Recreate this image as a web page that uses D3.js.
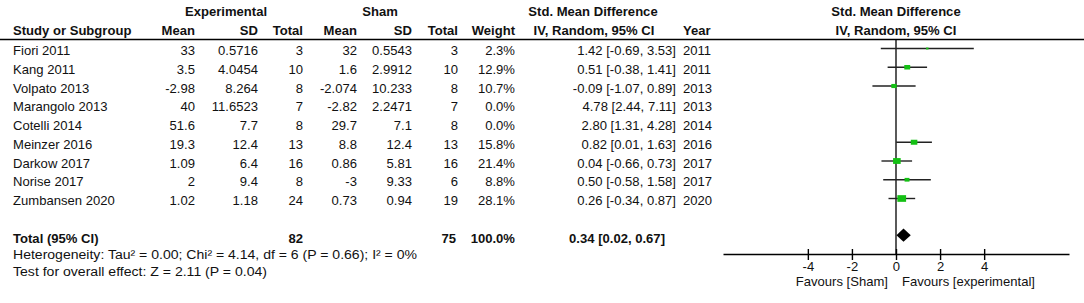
<!DOCTYPE html>
<html><head><meta charset="utf-8">
<script src="https://cdn.jsdelivr.net/npm/d3@7"></script>
<style>
html,body{margin:0;padding:0;background:#fff;}
svg{display:block;font-family:"Liberation Sans",Arial,sans-serif;}
</style></head>
<body>
<svg id="c" width="1084" height="303"></svg>
<script>
const studies = ["Fiori 2011","Kang 2011","Volpato 2013","Marangolo 2013","Cotelli 2014","Meinzer 2016","Darkow 2017","Norise 2017","Zumbansen 2020"];
const expMean = [33, 3.5, -2.98, 40, 51.6, 19.3, 1.09, 2, 1.02];
const expSD = [0.5716, 4.0454, 8.264, 11.6523, 7.7, 12.4, 6.4, 9.4, 1.18];
const expN = [3, 10, 8, 7, 8, 13, 16, 8, 24];
const shamMean = [32, 1.6, -2.074, -2.82, 29.7, 8.8, 0.86, -3, 0.73];
const shamSD = [0.5543, 2.9912, 10.233, 2.2471, 7.1, 12.4, 5.81, 9.33, 0.94];
const shamN = [3, 10, 8, 7, 8, 13, 16, 6, 19];
const weights = [2.3, 12.9, 10.7, 0.0, 0.0, 15.8, 21.4, 8.8, 28.1];
const smd = [1.42, 0.51, -0.09, 4.78, 2.80, 0.82, 0.04, 0.50, 0.26];
const ciLow = [-0.69, -0.38, -1.07, 2.44, 1.31, 0.01, -0.66, -0.58, -0.34];
const ciHigh = [3.53, 1.41, 0.89, 7.11, 4.28, 1.63, 0.73, 1.58, 0.87];
const years = [2011, 2011, 2013, 2013, 2014, 2016, 2017, 2017, 2020];
const totalExpN = 82;
const totalShamN = 75;
const totalWeight = 100.0;
const pooled = [0.34, 0.02, 0.67];
const axisTicks = [-4, -2, 0, 2, 4];
const heterogeneityText = "Heterogeneity: Tau\u00b2 = 0.00; Chi\u00b2 = 4.14, df = 6 (P = 0.66); I\u00b2 = 0%";
const overallText = "Test for overall effect: Z = 2.11 (P = 0.04)";

const svg = d3.select("#c");
const SX = 1.09;
const FS = 12;
const ink = "#111";

function txt(x, y, s, anchor, bold) {
  return svg.append("text")
    .attr("transform", `translate(${x},${y}) scale(${SX},1)`)
    .attr("text-anchor", anchor || "start")
    .attr("font-size", FS)
    .attr("font-weight", bold ? "bold" : "normal")
    .attr("fill", ink)
    .text(s);
}

const x = d3.scaleLinear().domain([-7.85, 7.85]).range([723, 1069]);
const y = d3.scaleLinear().domain([0, 10]).range([48.5, 236]);
const base = 6.7; // text baseline offset from row centre

const col = {study: 13, eMean: 195, eSD: 258, eN: 303, sMean: 357, sSD: 412, sN: 458, w: 515, ci: 676, year: 683};

// headers
txt(226, 16, "Experimental", "middle", true);
txt(380, 16, "Sham", "middle", true);
txt(593, 16, "Std. Mean Difference", "middle", true);
txt(x(0), 16, "Std. Mean Difference", "middle", true);
txt(col.study, 35, "Study or Subgroup", "start", true);
txt(col.eMean, 35, "Mean", "end", true);
txt(col.eSD, 35, "SD", "end", true);
txt(col.eN, 35, "Total", "end", true);
txt(col.sMean, 35, "Mean", "end", true);
txt(col.sSD, 35, "SD", "end", true);
txt(col.sN, 35, "Total", "end", true);
txt(col.w, 35, "Weight", "end", true);
txt(594, 35, "IV, Random, 95% CI", "middle", true);
txt(col.year, 35, "Year", "start", true);
txt(x(0), 35, "IV, Random, 95% CI", "middle", true);

svg.append("line").attr("x1", 0).attr("x2", 1084).attr("y1", 39.5).attr("y2", 39.5)
  .attr("stroke", "#000").attr("stroke-width", 1.5);

// rows
const f2 = v => v.toFixed(2);
studies.forEach((s, i) => {
  const ty = y(i) + base;
  txt(col.study, ty, s, "start");
  txt(col.eMean, ty, String(expMean[i]), "end");
  txt(col.eSD, ty, String(expSD[i]), "end");
  txt(col.eN, ty, String(expN[i]), "end");
  txt(col.sMean, ty, String(shamMean[i]), "end");
  txt(col.sSD, ty, String(shamSD[i]), "end");
  txt(col.sN, ty, String(shamN[i]), "end");
  txt(col.w, ty, weights[i].toFixed(1) + "%", "end");
  txt(col.ci, ty, `${f2(smd[i])} [${f2(ciLow[i])}, ${f2(ciHigh[i])}]`, "end");
  txt(col.year, ty, String(years[i]), "start");
});

// total row
const totY = y(10) + base;
txt(col.study, totY, "Total (95% CI)", "start", true);
txt(col.eN, totY, String(totalExpN), "end", true);
txt(456, totY, String(totalShamN), "end", true);
txt(col.w, totY, totalWeight.toFixed(1) + "%", "end", true);
txt(665, totY, `${f2(pooled[0])} [${f2(pooled[1])}, ${f2(pooled[2])}]`, "end", true);
svg.append("text").attr("x", col.study).attr("y", 258.5).attr("font-size", FS).attr("fill", ink)
  .attr("textLength", 404).attr("lengthAdjust", "spacingAndGlyphs").text(heterogeneityText);
svg.append("text").attr("x", col.study).attr("y", 276).attr("font-size", FS).attr("fill", ink)
  .attr("textLength", 254).attr("lengthAdjust", "spacingAndGlyphs").text(overallText);

// zero line
svg.append("line").attr("x1", x(0)).attr("x2", x(0)).attr("y1", 39.5).attr("y2", 254)
  .attr("stroke", "#000").attr("stroke-width", 1.3);

// CI lines and boxes (zero-weight studies are not drawn)
const idx = d3.range(studies.length).filter(i => weights[i] > 0);
svg.append("g").selectAll("line").data(idx).join("line")
  .attr("x1", i => x(ciLow[i])).attr("x2", i => x(ciHigh[i]))
  .attr("y1", i => y(i)).attr("y2", i => y(i))
  .attr("stroke", "#222").attr("stroke-width", 1.4);
const box = w => 1.5 * Math.sqrt(w);
svg.append("g").selectAll("rect").data(idx).join("rect")
  .attr("x", i => x(smd[i]) - box(weights[i]) * 0.55)
  .attr("width", i => box(weights[i]) * 1.1)
  .attr("y", i => y(i) - box(weights[i]) * 0.42)
  .attr("height", i => box(weights[i]) * 0.84)
  .attr("fill", "#14c014");

// diamond
const dy = y(10) - 0.8;
svg.append("path")
  .attr("d", `M${x(pooled[1])},${dy} L${x(pooled[0])},${dy - 6.6} L${x(pooled[2])},${dy} L${x(pooled[0])},${dy + 6.6} Z`)
  .attr("fill", "#000");

// axis
const ax = svg.append("g").attr("transform", "translate(0,254)")
  .call(d3.axisBottom(x).tickValues(axisTicks).tickSizeInner(6).tickSizeOuter(0).tickFormat(d => String(d)));
ax.select(".domain").attr("stroke", "#000").attr("stroke-width", 1.4);
ax.selectAll(".tick line").attr("y1", -5).attr("y2", 6).attr("stroke", "#000").attr("stroke-width", 1.4);
ax.selectAll(".tick text").attr("y", 17).attr("dy", null)
  .attr("font-size", FS).attr("font-family", "Liberation Sans, Arial, sans-serif").attr("fill", ink)
  .attr("transform", `scale(${SX},1)`).attr("x", 0);

txt(888, 286, "Favours [Sham]", "end");
txt(902, 286, "Favours [experimental]", "start");
</script>
</body></html>
